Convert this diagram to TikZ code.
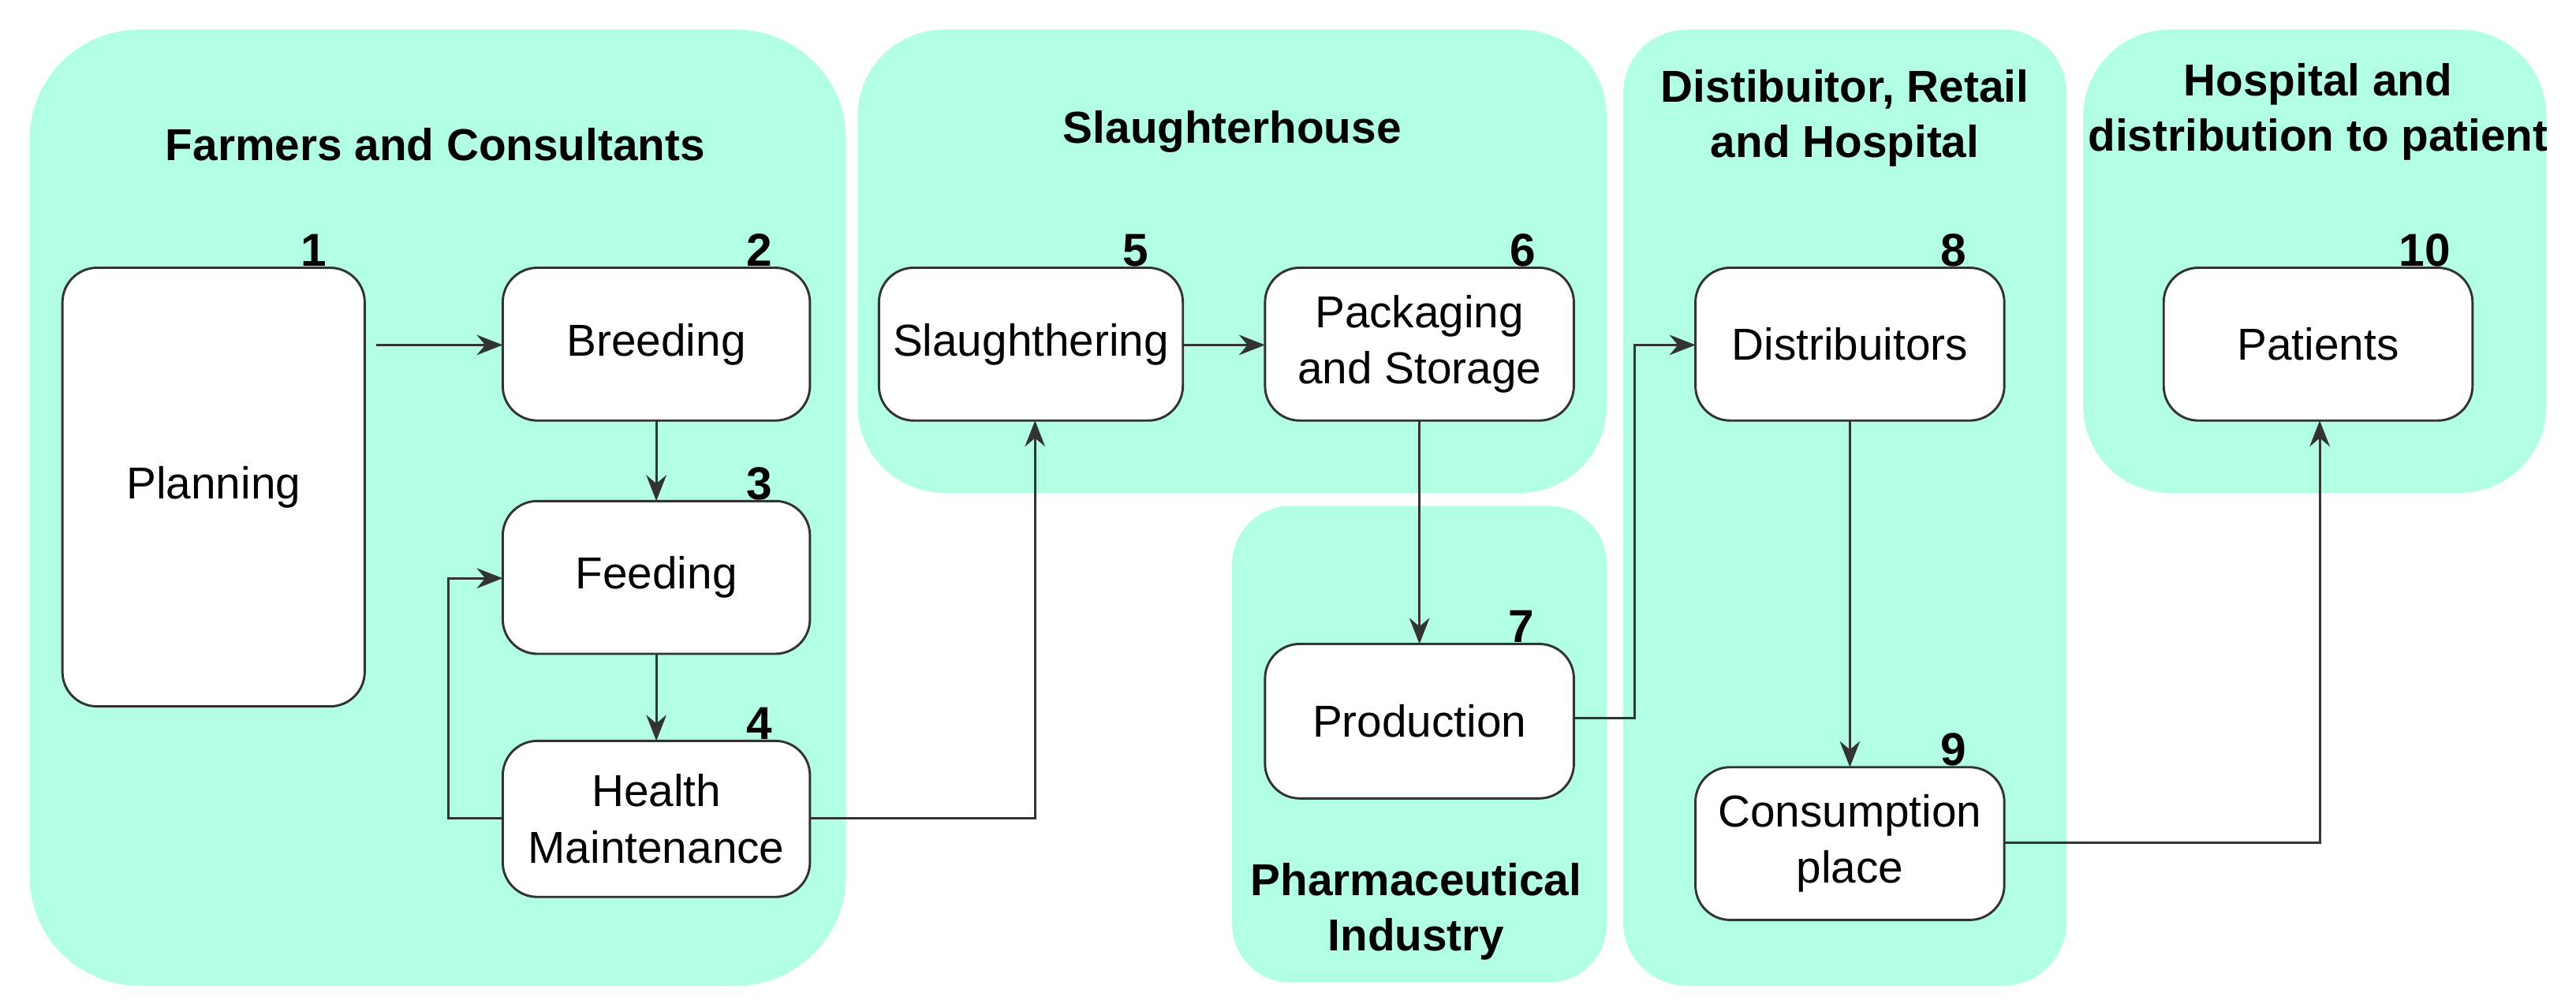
\documentclass[tikz,border=0pt]{standalone}
\usepackage{fontspec}
\setmainfont{Liberation Sans}
\usetikzlibrary{arrows.meta}
\definecolor{grp}{HTML}{B3FFE4}
\begin{document}
\begin{tikzpicture}[x=0.02cm,y=-0.02cm,
  group/.style={fill=grp,draw=none},
  box/.style={draw=black!80,line width=0.8pt,fill=white,rounded corners=12pt},
  lbl/.style={font=\fontsize{15.5}{19.5}\selectfont,align=center},
  num/.style={font=\bfseries\fontsize{16}{18}\selectfont,anchor=base,inner sep=0pt},
  ttl/.style={font=\bfseries\fontsize{15.5}{19}\selectfont,align=center},
  arr/.style={draw=black!80,line width=0.8pt,-{Stealth[length=9pt,width=7pt]}}]
\useasboundingbox (0,0) rectangle (1568,611);
% groups
\fill[group,rounded corners=38pt] (18,18) rectangle (515,600);
\fill[group,rounded corners=30pt] (522,18) rectangle (978,300);
\fill[group,rounded corners=20pt] (750,308) rectangle (978,598);
\fill[group,rounded corners=22pt] (988,18) rectangle (1258,600);
\fill[group,rounded corners=30pt] (1268,18) rectangle (1550,300);
% titles
\node[ttl] (t1) at (265,88) {Farmers and Consultants};
\node[ttl] (t2) at (750,80) {Slaughterhouse};
\node[ttl] (t3) at (1123,72) {Distibuitor, Retail\\and Hospital};
\node[ttl] (t4) at (1411,68) {Hospital and\\distribution to patient};
\node[ttl] (t5) at (862,555) {Pharmaceutical\\Industry};
% boxes
\path[box] (38,163) rectangle (222,430); \node[lbl] (n1) at (130,296.5) {Planning};
\path[box] (306,163) rectangle (493,256); \node[lbl] (n2) at (399.5,209.5) {Breeding};
\path[box] (306,305) rectangle (493,398); \node[lbl] (n3) at (399.5,351.5) {Feeding};
\path[box] (306,451) rectangle (493,546); \node[lbl] (n4) at (399.5,498.5) {Health\\Maintenance};
\path[box] (535,163) rectangle (720,256); \node[lbl] (n5) at (627.5,209.5) {Slaughthering};
\path[box] (770,163) rectangle (958,256); \node[lbl] (n6) at (864,209.5) {Packaging\\and Storage};
\path[box] (770,392) rectangle (958,486); \node[lbl] (n7) at (864,439) {Production};
\path[box] (1032,163) rectangle (1220,256); \node[lbl] (n8) at (1126,209.5) {Distribuitors};
\path[box] (1032,467) rectangle (1220,560); \node[lbl] (n9) at (1126,513.5) {Consumption\\place};
\path[box] (1317,163) rectangle (1505,256); \node[lbl] (n10) at (1411,209.5) {Patients};
% numbers
\node[num] (k1) at (191,162) {1};
\node[num] (k2) at (462,162) {2};
\node[num] (k3) at (462,304) {3};
\node[num] (k4) at (462,450) {4};
\node[num] (k5) at (691,162) {5};
\node[num] (k6) at (927,162) {6};
\node[num] (k7) at (926,391) {7};
\node[num] (k8) at (1189,162) {8};
\node[num] (k9) at (1189,466) {9};
\node[num] (k10) at (1476,162) {10};
% coordinates
\coordinate (p1) at (229,210);
\coordinate (b2) at (399.5,256); \coordinate (t3c) at (399.5,305);
\coordinate (b3) at (399.5,398); \coordinate (t4c) at (399.5,451);
\coordinate (l4) at (306,498); \coordinate (l3) at (306,352);
\coordinate (r4) at (493,498); \coordinate (b5) at (630,256);
\coordinate (r5) at (720,210); \coordinate (l6) at (770,210);
\coordinate (b6) at (864,256); \coordinate (t7) at (864,392);
\coordinate (r7) at (958,437); \coordinate (l8) at (1032,210);
\coordinate (b8) at (1126,256); \coordinate (t9) at (1126,467);
\coordinate (r9) at (1220,513); \coordinate (b10) at (1412,256);
\coordinate (l2) at (306,210);
% arrows
\draw[arr] (p1) -- (l2);
\draw[arr] (b2) -- (t3c);
\draw[arr] (b3) -- (t4c);
\draw[arr] (l4) -- (273,498) -- (273,352) -- (l3);
\draw[arr] (r4) -- (630,498) -- (b5);
\draw[arr] (r5) -- (l6);
\draw[arr] (b6) -- (t7);
\draw[arr] (r7) -- (995,437) -- (995,210) -- (l8);
\draw[arr] (b8) -- (t9);
\draw[arr] (r9) -- (1412,513) -- (b10);
\end{tikzpicture}
\end{document}
